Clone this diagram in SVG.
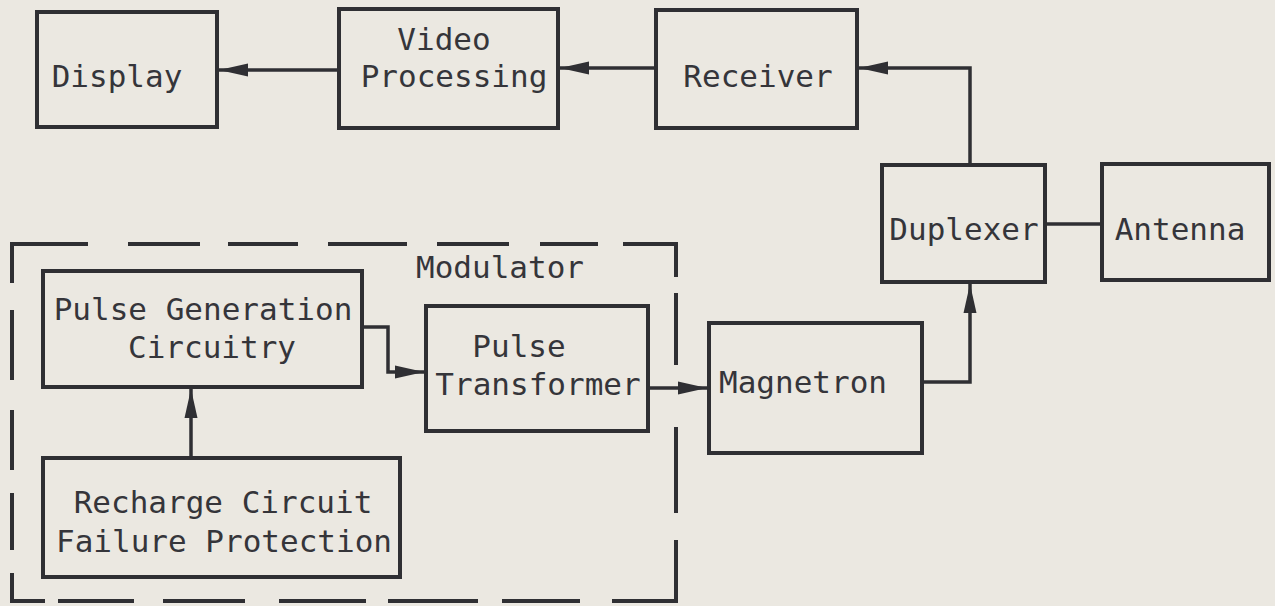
<svg xmlns="http://www.w3.org/2000/svg" width="1275" height="606" viewBox="0 0 1275 606">
  <defs>
    <style>
      .box { fill: none; stroke: #2f2f33; stroke-width: 4; }
      .lbl { font-family: "DejaVu Sans Mono", "Liberation Mono", monospace; font-size: 31px; fill: #35353a; text-anchor: middle; }
      .con { fill: none; stroke: #2f2f33; stroke-width: 3.5; stroke-linejoin: miter; }
      .dash { fill: none; stroke: #2f2f33; stroke-width: 4; stroke-linecap: butt; }
    </style>
    <marker id="arr" markerUnits="userSpaceOnUse" markerWidth="32" markerHeight="16" refX="29" refY="7" orient="auto">
      <path d="M0,0.5 L29,7 L0,13.5 Z" fill="#2f2f33"/>
    </marker>
  </defs>
  <rect x="0" y="0" width="1275" height="606" fill="#ebe8e1"/>

  <g id="modulator">
    <path class="dash" d="M12,283 V244 H88 M128,244 H200 M228,244 H298 M328,244 H407 M437,244 H509 M540,244 H598 M623,244 H676 V277 M676,293 V365 M676,427 V513 M676,540 V601 H612 M580,601 H502 M478,601 H388 M366,601 H279 M245,601 H163 M134,601 H58 M45,601 H12 V573 M12,550 V493 M12,470 V410 M12,380 V310"/>
    <text class="lbl" x="500" y="278">Modulator</text>
  </g>

  <g id="display">
    <rect class="box" x="37" y="12" width="180" height="115"/>
    <text class="lbl" x="117" y="87">Display</text>
  </g>
  <g id="video-processing">
    <rect class="box" x="339" y="9" width="219" height="119"/>
    <text class="lbl" x="444" y="50">Video</text>
    <text class="lbl" x="454" y="87">Processing</text>
  </g>
  <g id="receiver">
    <rect class="box" x="656" y="10" width="201" height="118"/>
    <text class="lbl" x="758" y="87">Receiver</text>
  </g>
  <g id="duplexer">
    <rect class="box" x="882" y="165" width="163" height="117"/>
    <text class="lbl" x="964" y="240">Duplexer</text>
  </g>
  <g id="antenna">
    <rect class="box" x="1102" y="164" width="167" height="116"/>
    <text class="lbl" x="1180" y="240">Antenna</text>
  </g>
  <g id="pulse-generation">
    <rect class="box" x="43" y="271" width="319" height="116"/>
    <text class="lbl" x="203" y="320">Pulse Generation</text>
    <text class="lbl" x="212" y="358">Circuitry</text>
  </g>
  <g id="pulse-transformer">
    <rect class="box" x="426" y="306" width="222" height="125"/>
    <text class="lbl" x="519" y="357">Pulse</text>
    <text class="lbl" x="538" y="395">Transformer</text>
  </g>
  <g id="magnetron">
    <rect class="box" x="709" y="323" width="213" height="130"/>
    <text class="lbl" x="803" y="393">Magnetron</text>
  </g>
  <g id="recharge">
    <rect class="box" x="43" y="458" width="357" height="119"/>
    <text class="lbl" x="223" y="513">Recharge Circuit</text>
    <text class="lbl" x="224" y="552">Failure Protection</text>
  </g>

  <g id="connectors">
    <path class="con" d="M339,70 H219" marker-end="url(#arr)"/>
    <path class="con" d="M656,68 H560" marker-end="url(#arr)"/>
    <path class="con" d="M970,165 V68 H859" marker-end="url(#arr)"/>
    <path class="con" d="M1045,224 H1102"/>
    <path class="con" d="M922,382 H970 V284" marker-end="url(#arr)"/>
    <path class="con" d="M648,388 H707" marker-end="url(#arr)"/>
    <path class="con" d="M362,327 H388 V372 H424" marker-end="url(#arr)"/>
    <path class="con" d="M191,458 V389" marker-end="url(#arr)"/>
  </g>
</svg>
